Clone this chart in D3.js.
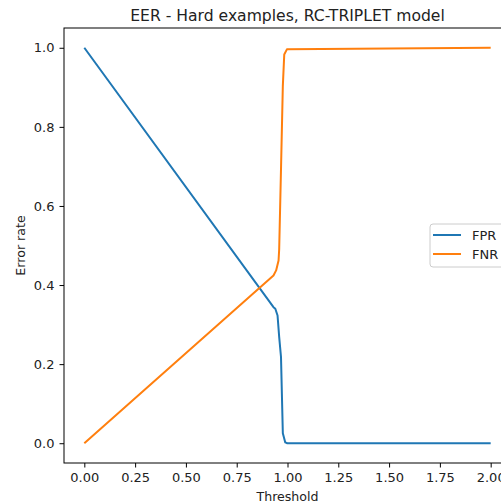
<!DOCTYPE html>
<html>
<head>
<meta charset="utf-8">
<script src="https://cdn.jsdelivr.net/npm/d3@7"></script>
<style>
  body { margin: 0; background: #fff; }
  svg { display: block; font-family: "DejaVu Sans", sans-serif; }
</style>
</head>
<body>
<svg id="chart" width="501" height="504"></svg>
<script>
// data
var fprThreshold = [0, 0.931, 0.940, 0.951, 0.959, 0.968, 0.977, 0.989, 0.999, 2.0];
var fprValues    = [1.0, 0.344, 0.340, 0.323, 0.269, 0.218, 0.025, 0.002, 0.0, 0.0];
var fnrThreshold = [0, 0.931, 0.944, 0.956, 0.959, 0.968, 0.977, 0.984, 0.997, 2.0];
var fnrValues    = [0.0, 0.424, 0.437, 0.462, 0.49, 0.693, 0.903, 0.983, 0.996, 1.0];
var xTicks = [0, 0.25, 0.5, 0.75, 1.0, 1.25, 1.5, 1.75, 2.0];
var yTicks = [0, 0.2, 0.4, 0.6, 0.8, 1.0];
var seriesNames = ["FPR", "FNR"];
var seriesColors = ["#1f77b4", "#ff7f0e"];

var svg = d3.select("#chart");

// axes box (right edge falls outside the window)
var plotLeft = 64, plotTop = 28, plotRight = 511, plotBottom = 463;

var xScale = d3.scaleLinear().domain([-0.1, 2.1]).range([plotLeft, plotRight]);
var yScale = d3.scaleLinear().domain([-0.05, 1.05]).range([plotBottom, plotTop]);

var line = d3.line()
    .x(function (d) { return xScale(d.t); })
    .y(function (d) { return yScale(d.v); });

var series = [
    { name: seriesNames[0], color: seriesColors[0],
      points: fprThreshold.map(function (t, i) { return { t: t, v: fprValues[i] }; }) },
    { name: seriesNames[1], color: seriesColors[1],
      points: fnrThreshold.map(function (t, i) { return { t: t, v: fnrValues[i] }; }) }
];

svg.selectAll(".line")
    .data(series)
    .enter()
    .append("path")
    .attr("class", "line")
    .attr("d", function (d) { return line(d.points); })
    .attr("fill", "none")
    .attr("stroke", function (d) { return d.color; })
    .attr("stroke-width", 2)
    .attr("stroke-linejoin", "round");

// x axis
var xAxis = d3.axisBottom(xScale)
    .tickValues(xTicks)
    .tickFormat(d3.format(".2f"))
    .tickSize(4.5)
    .tickPadding(5.5);
var gx = svg.append("g")
    .attr("transform", "translate(0," + plotBottom + ")")
    .call(xAxis);

// y axis
var yAxis = d3.axisLeft(yScale)
    .tickValues(yTicks)
    .tickFormat(d3.format(".1f"))
    .tickSize(4.5)
    .tickPadding(5);
var gy = svg.append("g")
    .attr("transform", "translate(" + plotLeft + ",0)")
    .call(yAxis);

[gx, gy].forEach(function (g) {
    g.select(".domain").remove();
    g.selectAll("line").attr("stroke", "#000").attr("stroke-width", 1);
    g.selectAll("text").attr("font-size", 13).attr("fill", "#222")
        .attr("font-family", "DejaVu Sans, sans-serif");
});

// spines
svg.append("rect")
    .attr("x", plotLeft)
    .attr("y", plotTop)
    .attr("width", plotRight - plotLeft)
    .attr("height", plotBottom - plotTop)
    .attr("fill", "none")
    .attr("stroke", "#000")
    .attr("stroke-width", 1);

// title and labels
svg.append("text")
    .attr("x", (plotLeft + plotRight) / 2)
    .attr("y", 21)
    .attr("text-anchor", "middle")
    .attr("font-size", 15.6)
    .attr("fill", "#222")
    .text("EER - Hard examples, RC-TRIPLET model");

svg.append("text")
    .attr("x", (plotLeft + plotRight) / 2)
    .attr("y", 501)
    .attr("text-anchor", "middle")
    .attr("font-size", 12.6)
    .attr("fill", "#222")
    .text("Threshold");

svg.append("text")
    .attr("transform", "translate(24.5," + ((plotTop + plotBottom) / 2) + ") rotate(-90)")
    .attr("text-anchor", "middle")
    .attr("font-size", 12.6)
    .attr("fill", "#222")
    .text("Error rate");

// legend
var legend = svg.append("g").attr("transform", "translate(430,224)");
legend.append("rect")
    .attr("width", 80)
    .attr("height", 43)
    .attr("rx", 3)
    .attr("fill", "#fff")
    .attr("fill-opacity", 0.8)
    .attr("stroke", "#ccc")
    .attr("stroke-width", 1);
var items = legend.selectAll(".item")
    .data(series)
    .enter()
    .append("g")
    .attr("class", "item")
    .attr("transform", function (d, i) { return "translate(0," + (11 + i * 19) + ")"; });
items.append("line")
    .attr("x1", 3).attr("x2", 31)
    .attr("stroke", function (d) { return d.color; })
    .attr("stroke-width", 2);
items.append("text")
    .attr("x", 42)
    .attr("dy", "0.35em")
    .attr("font-size", 13)
    .attr("fill", "#222")
    .text(function (d) { return d.name; });
</script>
</body>
</html>
